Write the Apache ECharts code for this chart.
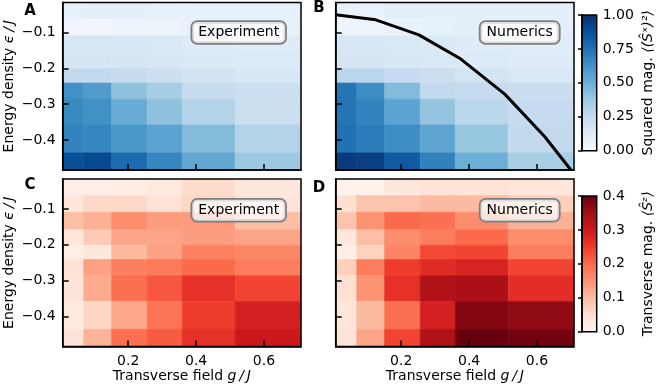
<!DOCTYPE html>
<html>
<head>
<meta charset="utf-8">
<script src="https://cdn.jsdelivr.net/npm/echarts@6/dist/echarts.min.js"></script>
<style>
  html, body { margin: 0; padding: 0; background: #fff; }
  #chart { width: 657px; height: 386px; }
</style>
</head>
<body>
<div id="chart"></div>
<script>
// cell edges (non-uniform grid): transverse field g/J and energy density eps/J
const gEdges = [0.007, 0.069, 0.151, 0.256, 0.359, 0.515, 0.709];
const eEdges = [-0.016, -0.0625, -0.109, -0.158, -0.201, -0.241, -0.286, -0.358, -0.436, -0.484];

// rows go from top (eps ~ 0) to bottom (eps ~ -0.48)
// A: squared magnetisation, experiment
const sqExp = [
  [0.08, 0.09, 0.09, 0.08, 0.08, 0.08],
  [0.04, 0.04, 0.05, 0.06, 0.08, 0.08],
  [0.16, 0.16, 0.16, 0.15, 0.13, 0.12],
  [0.17, 0.17, 0.17, 0.16, 0.14, 0.13],
  [0.26, 0.26, 0.24, 0.22, 0.19, 0.16],
  [0.63, 0.58, 0.41, 0.35, 0.24, 0.22],
  [0.66, 0.63, 0.51, 0.41, 0.31, 0.22],
  [0.68, 0.67, 0.60, 0.55, 0.44, 0.31],
  [0.88, 0.90, 0.77, 0.67, 0.53, 0.38]
];
// B: squared magnetisation, numerics
const sqNum = [
  [0.07, 0.07, 0.09, 0.09, 0.09, 0.09],
  [0.05, 0.06, 0.07, 0.08, 0.09, 0.09],
  [0.16, 0.16, 0.15, 0.14, 0.12, 0.11],
  [0.17, 0.17, 0.16, 0.15, 0.13, 0.12],
  [0.29, 0.28, 0.25, 0.22, 0.18, 0.15],
  [0.74, 0.64, 0.44, 0.26, 0.25, 0.23],
  [0.74, 0.68, 0.55, 0.40, 0.29, 0.25],
  [0.75, 0.71, 0.64, 0.54, 0.39, 0.26],
  [0.96, 0.94, 0.84, 0.69, 0.50, 0.34]
];
// C: transverse magnetisation, experiment
const trExp = [
  [0.016, 0.016, 0.020, 0.028, 0.056, 0.032],
  [0.036, 0.060, 0.060, 0.044, 0.064, 0.040],
  [0.096, 0.112, 0.156, 0.136, 0.140, 0.096],
  [0.036, 0.080, 0.128, 0.128, 0.136, 0.128],
  [0.016, 0.032, 0.100, 0.132, 0.172, 0.164],
  [0.044, 0.132, 0.172, 0.180, 0.200, 0.176],
  [0.040, 0.120, 0.192, 0.220, 0.264, 0.240],
  [0.028, 0.064, 0.124, 0.188, 0.248, 0.288],
  [0.040, 0.108, 0.192, 0.216, 0.264, 0.300]
];
// D: transverse magnetisation, numerics
const trNum = [
  [0.008, 0.008, 0.032, 0.044, 0.044, 0.036],
  [0.052, 0.088, 0.088, 0.100, 0.100, 0.072],
  [0.088, 0.148, 0.200, 0.192, 0.156, 0.112],
  [0.032, 0.096, 0.156, 0.176, 0.200, 0.156],
  [0.016, 0.068, 0.168, 0.236, 0.240, 0.176],
  [0.072, 0.176, 0.248, 0.272, 0.284, 0.240],
  [0.048, 0.148, 0.264, 0.336, 0.344, 0.268],
  [0.036, 0.100, 0.192, 0.288, 0.376, 0.368],
  [0.040, 0.128, 0.240, 0.336, 0.400, 0.392]
];
// boundary line in panel B
const lineG = [0.007, 0.125, 0.252, 0.372, 0.505, 0.623, 0.700];
const lineE = [-0.0505, -0.0645, -0.1064, -0.1716, -0.272, -0.391, -0.484];

const xTicks = [0.2, 0.4, 0.6];
const yTicks = [-0.1, -0.2, -0.3, -0.4];
const cbSqTicks = [0, 0.25, 0.5, 0.75, 1];
const cbTrTicks = [0, 0.1, 0.2, 0.3, 0.4];

const blues = ["#f7fbff", "#deebf7", "#c6dbef", "#9ecae1", "#6baed6", "#4292c6", "#2171b5", "#08519c", "#08306b"];
const reds = ["#fff5f0", "#fee0d2", "#fcbba1", "#fc9272", "#fb6a4a", "#ef3b2c", "#cb181d", "#a50f15", "#67000d"];

const FONT = "DejaVu Sans";

function toCells(rows) {
  const out = [];
  rows.forEach((row, i) => {
    row.forEach((v, j) => {
      out.push([gEdges[j], gEdges[j + 1], eEdges[i], eEdges[i + 1], v]);
    });
  });
  return out;
}

function renderCell(params, api) {
  const p0 = api.coord([api.value(0), api.value(2)]);
  const p1 = api.coord([api.value(1), api.value(3)]);
  const c = api.visual("color");
  return {
    type: "rect",
    shape: {
      x: Math.min(p0[0], p1[0]),
      y: Math.min(p0[1], p1[1]),
      width: Math.abs(p1[0] - p0[0]),
      height: Math.abs(p1[1] - p0[1]),
    },
    style: { fill: c, stroke: c, lineWidth: 0.6 },
  };
}

function colorbarRender(colors) {
  return function (params) {
    const cs = params.coordSys;
    const stops = colors.map((c, i) => ({ offset: i / (colors.length - 1), color: c }));
    return {
      type: "rect",
      shape: { x: cs.x, y: cs.y, width: cs.width, height: cs.height },
      style: { fill: new echarts.graphic.LinearGradient(0, 1, 0, 0, stops) },
    };
  };
}

const minus = (v) => (v < 0 ? "\u2212" + Math.abs(v).toFixed(1) : v.toFixed(1));

const nameStyle = {
  fontSize: 14,
  fontFamily: FONT,
  color: "#000",
  rich: { i: { fontSize: 14, fontFamily: FONT, fontStyle: "italic", color: "#000" } },
};

const gridBase = { show: true, z: 10, borderColor: "#000", borderWidth: 1.5, backgroundColor: "transparent" };
const grids = [
  { left: 62.7, top: 2.5, width: 238.3, height: 167.5 },
  { left: 335.7, top: 2.5, width: 238.3, height: 167.5 },
  { left: 62.7, top: 179, width: 238.3, height: 167.5 },
  { left: 335.7, top: 179, width: 238.3, height: 167.5 },
  { left: 582, top: 15, width: 14.7, height: 135.7 },
  { left: 582, top: 196, width: 14.7, height: 135.7 },
].map((g) => Object.assign({}, gridBase, g));

function mainX(idx, withLabel) {
  return {
    type: "value",
    gridIndex: idx,
    min: gEdges[0],
    max: gEdges[gEdges.length - 1],
    z: 10,
    axisLine: { show: true, lineStyle: { color: "#000", width: 1.5 } },
    axisTick: { show: true, inside: true, length: 6, customValues: xTicks, lineStyle: { color: "#000", width: 1.5 } },
    axisLabel: { show: withLabel, customValues: xTicks, formatter: minus, fontSize: 14, fontFamily: FONT, color: "#000", margin: 8 },
    splitLine: { show: false },
    name: withLabel ? "Transverse field {i|g\u2009/\u2009J}" : "",
    nameLocation: "middle",
    nameGap: 21,
    nameTextStyle: nameStyle,
  };
}

function mainY(idx, withLabel) {
  return {
    type: "value",
    gridIndex: idx,
    min: eEdges[eEdges.length - 1],
    max: eEdges[0],
    z: 10,
    axisLine: { show: true, lineStyle: { color: "#000", width: 1.5 } },
    axisTick: { show: true, inside: true, length: 6, customValues: yTicks, lineStyle: { color: "#000", width: 1.5 } },
    axisLabel: { show: withLabel, customValues: yTicks, formatter: minus, fontSize: 14, fontFamily: FONT, color: "#000", margin: 7 },
    splitLine: { show: false },
    name: withLabel ? "Energy density {i|\u03f5\u2009/\u2009J}" : "",
    nameLocation: "middle",
    nameRotate: 90,
    nameGap: 46,
    nameTextStyle: nameStyle,
  };
}

function cbX(idx) {
  return { type: "value", gridIndex: idx, min: 0, max: 1, show: false };
}

function cbY(idx, max, ticks, digits, name) {
  return {
    type: "value",
    gridIndex: idx,
    position: "right",
    min: 0,
    max: max,
    z: 10,
    axisLine: { show: true, lineStyle: { color: "#000", width: 1.5 } },
    axisTick: { show: true, inside: true, length: 4, customValues: ticks, lineStyle: { color: "#000", width: 1.5 } },
    axisLabel: { customValues: ticks, formatter: (v) => v.toFixed(digits), fontSize: 14, fontFamily: FONT, color: "#000", margin: 6 },
    splitLine: { show: false },
    name: name,
    nameLocation: "middle",
    nameRotate: 90,
    nameGap: 45,
    nameTextStyle: nameStyle,
  };
}

function panelLetter(txt, x, y) {
  return { type: "text", x: x, y: y, z: 100, style: { text: txt, font: "bold 15px '" + FONT + "'", fill: "#000", align: "center", verticalAlign: "middle" } };
}

function tagBox(txt, x, y) {
  return {
    type: "text",
    x: x,
    y: y,
    z: 100,
    style: {
      text: txt,
      font: "14px '" + FONT + "'",
      fill: "#000",
      align: "center",
      verticalAlign: "middle",
      backgroundColor: "rgba(255,255,255,0.75)",
      borderColor: "#7f7f7f",
      borderWidth: 1.8,
      borderRadius: 5,
      padding: [4, 6, 3, 6],
    },
  };
}

const chart = echarts.init(document.getElementById("chart"));
chart.setOption({
  animation: false,
  backgroundColor: "#fff",
  grid: grids,
  xAxis: [mainX(0, false), mainX(1, false), mainX(2, true), mainX(3, true), cbX(4), cbX(5)],
  yAxis: [
    mainY(0, true), mainY(1, false), mainY(2, true), mainY(3, false),
    cbY(4, 1, cbSqTicks, 2, "Squared mag. {i|\u27e8(\u015c\u02e3)\u00b2\u27e9}"),
    cbY(5, 0.4, cbTrTicks, 1, "Transverse mag. {i|\u27e8\u015c\u1dbb\u27e9}"),
  ],
  visualMap: [
    { type: "continuous", show: false, min: 0, max: 1, dimension: 4, seriesIndex: [0, 1], inRange: { color: blues } },
    { type: "continuous", show: false, min: 0, max: 0.4, dimension: 4, seriesIndex: [2, 3], inRange: { color: reds } },
  ],
  series: [
    { type: "custom", xAxisIndex: 0, yAxisIndex: 0, renderItem: renderCell, encode: { x: [0, 1], y: [2, 3] }, data: toCells(sqExp) },
    { type: "custom", xAxisIndex: 1, yAxisIndex: 1, renderItem: renderCell, encode: { x: [0, 1], y: [2, 3] }, data: toCells(sqNum) },
    { type: "custom", xAxisIndex: 2, yAxisIndex: 2, renderItem: renderCell, encode: { x: [0, 1], y: [2, 3] }, data: toCells(trExp) },
    { type: "custom", xAxisIndex: 3, yAxisIndex: 3, renderItem: renderCell, encode: { x: [0, 1], y: [2, 3] }, data: toCells(trNum) },
    {
      type: "line",
      xAxisIndex: 1,
      yAxisIndex: 1,
      z: 5,
      symbol: "none",
      clip: true,
      lineStyle: { color: "#000", width: 3 },
      data: lineG.map((g, i) => [g, lineE[i]]),
    },
    { type: "custom", xAxisIndex: 4, yAxisIndex: 4, renderItem: colorbarRender(blues), data: [[0.5, 0.5]] },
    { type: "custom", xAxisIndex: 5, yAxisIndex: 5, renderItem: colorbarRender(reds), data: [[0.5, 0.2]] },
  ],
  graphic: [
    panelLetter("A", 30, 11.5),
    panelLetter("B", 319, 8),
    panelLetter("C", 30, 185.5),
    panelLetter("D", 319, 188.5),
    tagBox("Experiment", 238.7, 32.5),
    tagBox("Numerics", 519.7, 32.5),
    tagBox("Experiment", 238.7, 210.3),
    tagBox("Numerics", 519.7, 210.3),
  ],
});
</script>
</body>
</html>
